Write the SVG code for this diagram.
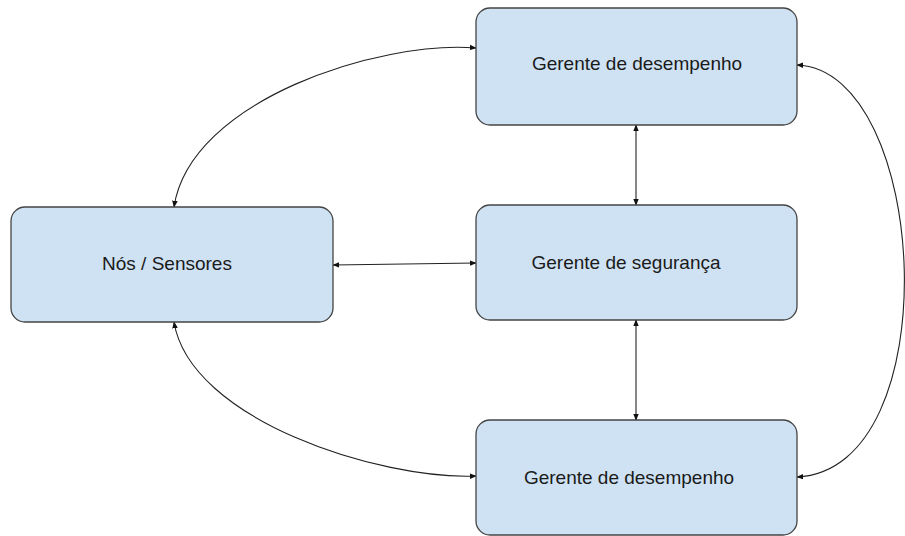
<svg xmlns="http://www.w3.org/2000/svg" width="905" height="536" viewBox="0 0 905 536">
<defs>
<style>
.node rect{fill:#cfe2f3;stroke:#444;stroke-width:1.3}
.node text{font-family:"Liberation Sans",Arial,sans-serif;font-size:19px;fill:#1a1a1a;text-anchor:middle;dominant-baseline:central}
.conn path{fill:none;stroke:#222;stroke-width:1.1}
</style>
<marker id="ah" viewBox="0 0 10 10" refX="9" refY="5" markerWidth="7" markerHeight="7" orient="auto-start-reverse" markerUnits="userSpaceOnUse">
<path d="M0,1 L10,5 L0,9 Z" fill="#111"/>
</marker>
</defs>
<rect width="905" height="536" fill="#fff"/>
<g class="conn">
<path d="M174,207 C190,100 380,40 476,48" marker-start="url(#ah)" marker-end="url(#ah)"/>
<path d="M174,322 C190,420 380,480 476,476" marker-start="url(#ah)" marker-end="url(#ah)"/>
<path d="M333,265 L476,263" marker-start="url(#ah)" marker-end="url(#ah)"/>
<path d="M636,125 L636,205" marker-start="url(#ah)" marker-end="url(#ah)"/>
<path d="M636,320 L636,420" marker-start="url(#ah)" marker-end="url(#ah)"/>
<path d="M797,65 C930,70 950,470 797,477" marker-start="url(#ah)" marker-end="url(#ah)"/>
</g>
<g class="node" id="n_top"><rect x="476" y="8" width="321" height="117" rx="14"/><text x="637" y="63">Gerente de desempenho</text></g>
<g class="node" id="n_mid"><rect x="476" y="205" width="321" height="115" rx="14"/><text x="626" y="262">Gerente de segurança</text></g>
<g class="node" id="n_bot"><rect x="476" y="420" width="321" height="115" rx="14"/><text x="629" y="477">Gerente de desempenho</text></g>
<g class="node" id="n_left"><rect x="11" y="207" width="322" height="115" rx="14"/><text x="167" y="263">Nós / Sensores</text></g>
</svg>
